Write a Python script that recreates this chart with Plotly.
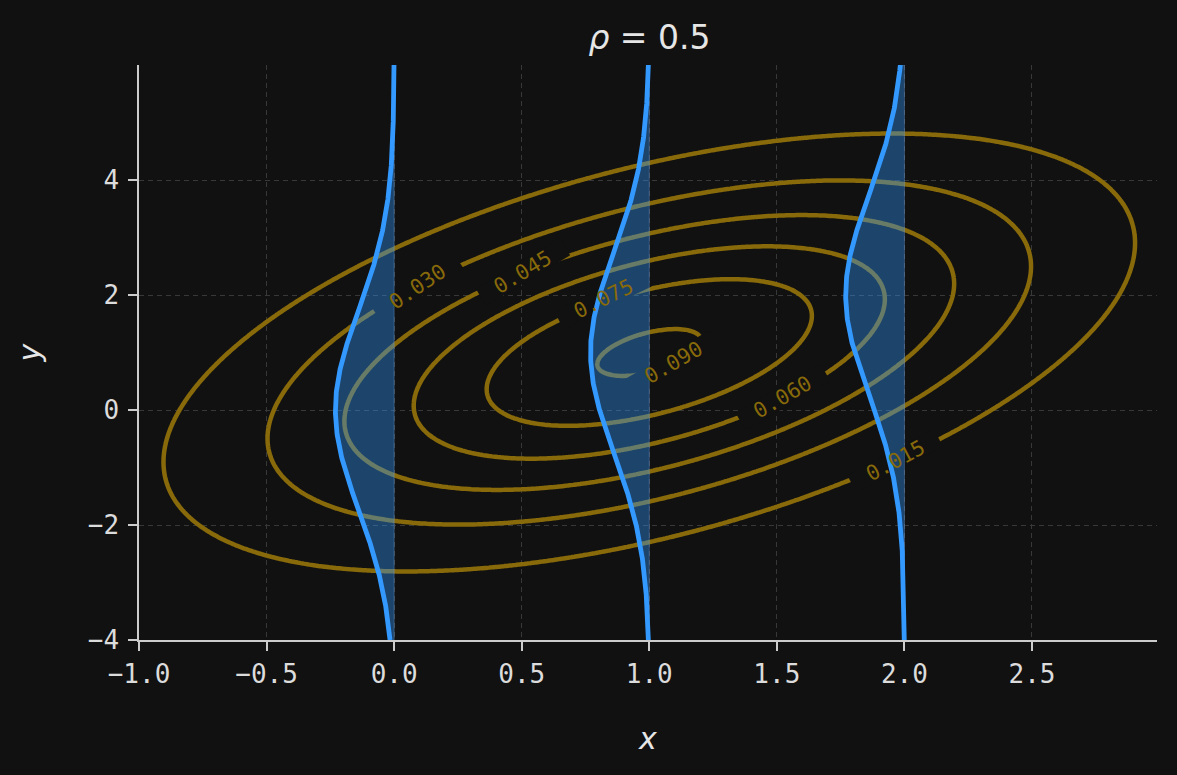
import numpy as np
import plotly.graph_objects as go

# ---- parameters of the bivariate normal shown ----
mu_x, mu_y = 1.0, 1.0
sigma_x, sigma_y = 1.0, 2.0
rho = 0.5

# contour levels and their label positions (x, y, angle)
levels = [0.015, 0.030, 0.045, 0.060, 0.075, 0.090]
label_text = ["0.015", "0.030", "0.045", "0.060", "0.075", "0.090"]
label_x = [1.964, 0.090, 0.505, 1.524, 0.819, 1.093]
label_y = [-0.887, 2.139, 2.400, 0.226, 1.930, 0.817]
label_angle = [-28, -34, -31, -30, -26, -30]

# x positions where conditional densities p(y|x) are drawn
slice_x = [0.0, 1.0, 2.0]

x_ticks = [-1.0, -0.5, 0.0, 0.5, 1.0, 1.5, 2.0, 2.5]
y_ticks = [-4, -2, 0, 2, 4]

BG = "#111111"
GOLD = "rgb(136,106,10)"
BLUE = "#3399ff"
FILL = "rgba(51,153,255,0.38)"
TXT = "#dcdcdc"


def fmt(v, d):
    s = f"{v:.{d}f}"
    return s.replace("-", "\u2212")


# density grid
gx = np.linspace(-1.3, 3.3, 400)
gy = np.linspace(-4.5, 6.5, 400)
X, Y = np.meshgrid(gx, gy)
zx = (X - mu_x) / sigma_x
zy = (Y - mu_y) / sigma_y
Q = (zx**2 - 2 * rho * zx * zy + zy**2) / (1 - rho**2)
Z = np.exp(-0.5 * Q) / (2 * np.pi * sigma_x * sigma_y * np.sqrt(1 - rho**2))

fig = go.Figure()

fig.add_trace(go.Contour(
    x=gx, y=gy, z=Z,
    contours=dict(coloring="lines", start=levels[0], end=levels[-1],
                  size=levels[1] - levels[0], showlabels=False),
    colorscale=[[0, GOLD], [1, GOLD]],
    line=dict(width=4.5),
    showscale=False, hoverinfo="skip",
))

# mask gaps in contour lines under the labels
fig.add_trace(go.Scatter(
    x=label_x, y=label_y, mode="markers",
    marker=dict(symbol="line-ew", size=70, angle=label_angle,
                line=dict(width=20, color=BG), color=BG),
    hoverinfo="skip", showlegend=False,
))

# conditional densities
ys = np.linspace(-4, 6, 600)
cond_sd = sigma_y * np.sqrt(1 - rho**2)
for x0 in slice_x:
    cm = mu_y + rho * sigma_y / sigma_x * (x0 - mu_x)
    pdf = np.exp(-0.5 * ((ys - cm) / cond_sd) ** 2) / (cond_sd * np.sqrt(2 * np.pi))
    xc = x0 - pdf
    fig.add_trace(go.Scatter(
        x=np.concatenate([xc, np.full_like(ys, x0)[::-1]]),
        y=np.concatenate([ys, ys[::-1]]),
        fill="toself", fillcolor=FILL, mode="lines",
        line=dict(width=1, color="rgba(120,170,230,0.35)"),
        hoverinfo="skip", showlegend=False,
    ))
    fig.add_trace(go.Scatter(
        x=xc, y=ys, mode="lines", line=dict(color=BLUE, width=4.8),
        hoverinfo="skip", showlegend=False,
    ))

for t, lx, ly, a in zip(label_text, label_x, label_y, label_angle):
    fig.add_annotation(x=lx, y=ly, text=t, showarrow=False, textangle=a,
                       font=dict(family="DejaVu Sans Mono", size=21, color=GOLD))

axis_common = dict(
    showline=True, linecolor="#cccccc", linewidth=1.5,
    ticks="outside", ticklen=9, tickwidth=1.5, tickcolor="#cccccc",
    tickfont=dict(family="DejaVu Sans Mono", size=26, color=TXT),
    showgrid=True, gridcolor="#383838", gridwidth=1, griddash="5px,4px",
    zeroline=False, mirror=False,
)

fig.update_layout(
    width=1177, height=775,
    paper_bgcolor=BG, plot_bgcolor=BG,
    margin=dict(l=139, r=20, t=65, b=135),
    showlegend=False,
    title=dict(text="<i>\u03c1</i> = 0.5", x=0.5518, xanchor="center",
               y=1 - 37 / 775, yanchor="middle", yref="container",
               font=dict(family="DejaVu Sans", size=33, color="#e6e6e6")),
    xaxis=dict(range=[-1.0, 2.99], tickvals=x_ticks,
               ticktext=[fmt(v, 1) for v in x_ticks],
               ticklabelstandoff=1,
               title=dict(text="<i>x</i>", standoff=40,
                          font=dict(family="DejaVu Sans", size=30, color="#e6e6e6")),
               **axis_common),
    yaxis=dict(range=[-4.0, 6.0], tickvals=y_ticks,
               ticktext=[fmt(v, 0) for v in y_ticks],
               ticklabelstandoff=4,
               title=dict(text="<i>y</i>", standoff=38,
                          font=dict(family="DejaVu Sans", size=30, color="#e6e6e6")),
               **axis_common),
)

fig.write_html(
    "out.html",
    config={"displayModeBar": False},
    post_script="document.body.style.margin='0';document.body.style.background='#111111';",
)
